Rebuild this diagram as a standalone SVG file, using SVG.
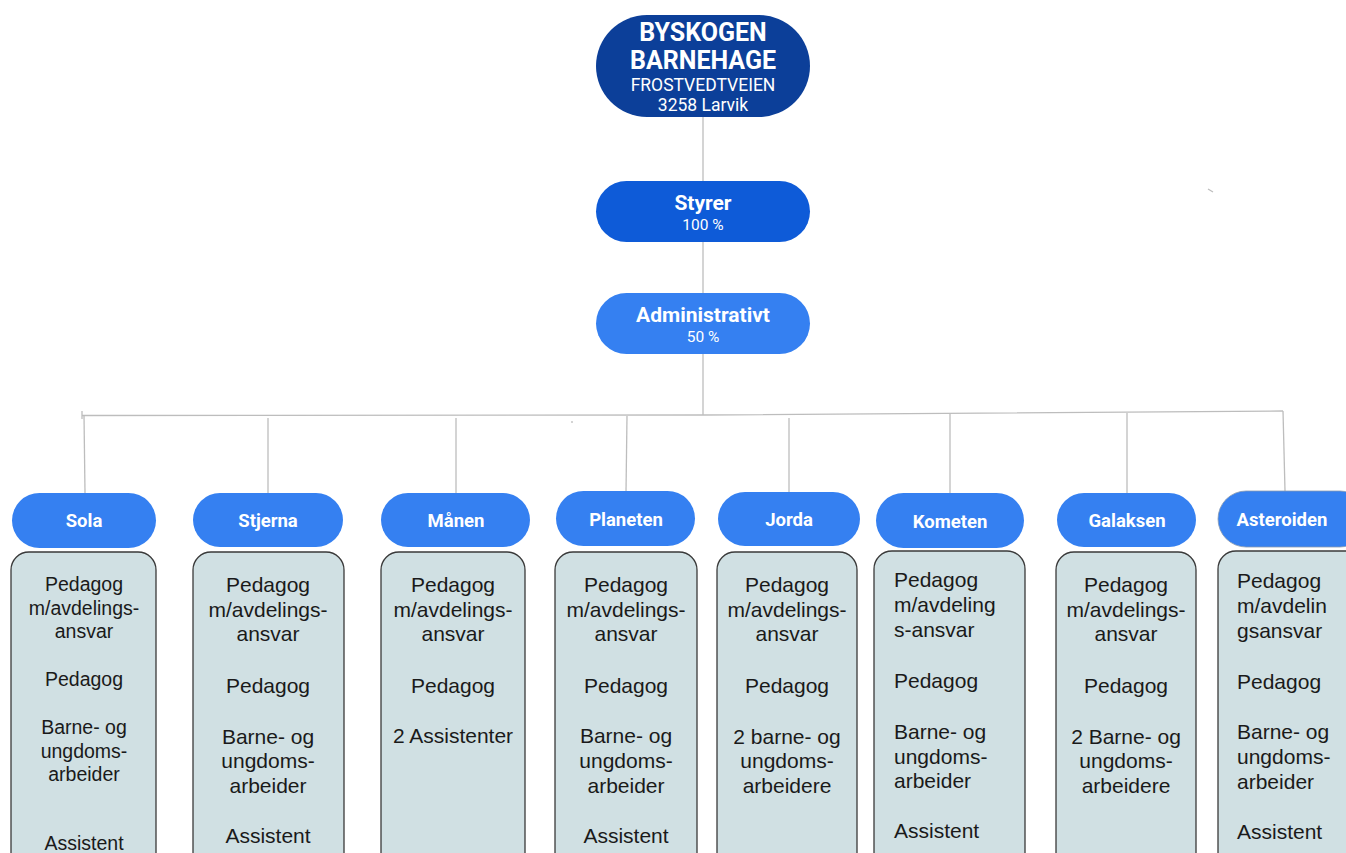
<svg xmlns="http://www.w3.org/2000/svg" width="1346" height="853" viewBox="0 0 1346 853">
<style>
.top{fill:#0c3f99}
.sty{fill:#0e5bd8}
.adm{fill:#3580f1}
.hdr{fill:#3580f1}
.box{fill:#d0e0e3;stroke:#3a3a3a;stroke-width:1.3}
.t{font-family:Roboto,"Liberation Sans",sans-serif;fill:#fff;text-anchor:middle}
.b{font-weight:bold}
.h{font-size:18.5px;font-weight:bold}
.g{font-family:"Liberation Sans",Arial,sans-serif;font-size:21px;fill:#1a1a1a;text-anchor:middle}
.s{font-size:19.5px}
.gl{text-anchor:start}
.c{stroke:#bdbdbd;stroke-width:1.3;fill:none}
</style>
<rect width="1346" height="853" fill="#fff"/>
<g id="connectors">
<line class="c" x1="703" y1="117" x2="703" y2="415"/>
<polyline class="c" points="82,415.5 703,415 1283,411"/>
<line class="c" x1="82" y1="411" x2="82" y2="419"/>
<line class="c" x1="84" y1="415" x2="85" y2="493"/>
<line class="c" x1="268" y1="418" x2="268" y2="493"/>
<line class="c" x1="456" y1="418" x2="456" y2="493"/>
<line class="c" x1="627" y1="416" x2="626" y2="492"/>
<line class="c" x1="789" y1="418" x2="789" y2="492"/>
<line class="c" x1="950" y1="414" x2="950" y2="493"/>
<line class="c" x1="1127" y1="413" x2="1127" y2="493"/>
<line class="c" x1="1283" y1="411" x2="1285" y2="491"/>
<line class="c" x1="572" y1="421" x2="572" y2="423"/>
<line class="c" x1="1208" y1="189" x2="1213" y2="192"/>
</g>
<g id="byskogen">
<rect class="top" x="596" y="15" width="214" height="102" rx="51"/>
<text class="t b" x="703" y="41" font-size="25">BYSKOGEN</text>
<text class="t b" x="703" y="69" font-size="25">BARNEHAGE</text>
<text class="t" x="703" y="91" font-size="17.5">FROSTVEDTVEIEN</text>
<text class="t" x="703" y="111" font-size="17.5">3258 Larvik</text>
</g>
<g id="styrer">
<rect class="sty" x="596" y="181" width="214" height="61" rx="30.5"/>
<text class="t b" x="703" y="210" font-size="21">Styrer</text>
<text class="t" x="703" y="230" font-size="15.5">100 %</text>
</g>
<g id="administrativt">
<rect class="adm" x="596" y="293" width="214" height="61" rx="30.5"/>
<text class="t b" x="703" y="322" font-size="21">Administrativt</text>
<text class="t" x="703" y="342" font-size="15.5">50 %</text>
</g>
<g id="sola">
<rect class="hdr" x="12" y="493" width="144" height="55" rx="27.5"/>
<text class="t h" x="84" y="527">Sola</text>
<rect class="box" x="11" y="552" width="145" height="360" rx="18"/>
<text class="g s" x="84" y="591">Pedagog</text>
<text class="g s" x="84" y="615">m/avdelings-</text>
<text class="g s" x="84" y="638">ansvar</text>
<text class="g s" x="84" y="686">Pedagog</text>
<text class="g s" x="84" y="734">Barne- og</text>
<text class="g s" x="84" y="758">ungdoms-</text>
<text class="g s" x="84" y="781">arbeider</text>
<text class="g s" x="84" y="850">Assistent</text>
</g>
<g id="stjerna">
<rect class="hdr" x="193" y="493" width="150" height="54" rx="27"/>
<text class="t h" x="268" y="527">Stjerna</text>
<rect class="box" x="193" y="552" width="151" height="360" rx="18"/>
<text class="g" x="268" y="592">Pedagog</text>
<text class="g" x="268" y="617">m/avdelings-</text>
<text class="g" x="268" y="641">ansvar</text>
<text class="g" x="268" y="693">Pedagog</text>
<text class="g" x="268" y="744">Barne- og</text>
<text class="g" x="268" y="768">ungdoms-</text>
<text class="g" x="268" y="793">arbeider</text>
<text class="g" x="268" y="843">Assistent</text>
</g>
<g id="manen">
<rect class="hdr" x="381" y="493" width="149" height="54" rx="27"/>
<text class="t h" x="456" y="527">Månen</text>
<rect class="box" x="381" y="552" width="144" height="360" rx="18"/>
<text class="g" x="453" y="592">Pedagog</text>
<text class="g" x="453" y="617">m/avdelings-</text>
<text class="g" x="453" y="641">ansvar</text>
<text class="g" x="453" y="693">Pedagog</text>
<text class="g" x="453" y="743">2 Assistenter</text>
</g>
<g id="planeten">
<rect class="hdr" x="556" y="491" width="139" height="55" rx="27.5"/>
<text class="t h" x="626" y="526">Planeten</text>
<rect class="box" x="555" y="552" width="142" height="360" rx="18"/>
<text class="g" x="626" y="592">Pedagog</text>
<text class="g" x="626" y="617">m/avdelings-</text>
<text class="g" x="626" y="641">ansvar</text>
<text class="g" x="626" y="693">Pedagog</text>
<text class="g" x="626" y="743">Barne- og</text>
<text class="g" x="626" y="768">ungdoms-</text>
<text class="g" x="626" y="793">arbeider</text>
<text class="g" x="626" y="843">Assistent</text>
</g>
<g id="jorda">
<rect class="hdr" x="718" y="492" width="142" height="54" rx="27"/>
<text class="t h" x="789" y="526">Jorda</text>
<rect class="box" x="717" y="552" width="140" height="360" rx="18"/>
<text class="g" x="787" y="592">Pedagog</text>
<text class="g" x="787" y="617">m/avdelings-</text>
<text class="g" x="787" y="641">ansvar</text>
<text class="g" x="787" y="693">Pedagog</text>
<text class="g" x="787" y="744">2 barne- og</text>
<text class="g" x="787" y="768">ungdoms-</text>
<text class="g" x="787" y="793">arbeidere</text>
</g>
<g id="kometen">
<rect class="hdr" x="876" y="493" width="148" height="55" rx="27.5"/>
<text class="t h" x="950" y="528">Kometen</text>
<rect class="box" x="874" y="551" width="151" height="360" rx="18"/>
<text class="g gl" x="894" y="587">Pedagog</text>
<text class="g gl" x="894" y="612">m/avdeling</text>
<text class="g gl" x="894" y="637">s-ansvar</text>
<text class="g gl" x="894" y="688">Pedagog</text>
<text class="g gl" x="894" y="739">Barne- og</text>
<text class="g gl" x="894" y="764">ungdoms-</text>
<text class="g gl" x="894" y="788">arbeider</text>
<text class="g gl" x="894" y="838">Assistent</text>
</g>
<g id="galaksen">
<rect class="hdr" x="1057" y="493" width="139" height="54" rx="27"/>
<text class="t h" x="1127" y="527">Galaksen</text>
<rect class="box" x="1056" y="552" width="140" height="360" rx="18"/>
<text class="g" x="1126" y="592">Pedagog</text>
<text class="g" x="1126" y="617">m/avdelings-</text>
<text class="g" x="1126" y="641">ansvar</text>
<text class="g" x="1126" y="693">Pedagog</text>
<text class="g" x="1126" y="744">2 Barne- og</text>
<text class="g" x="1126" y="768">ungdoms-</text>
<text class="g" x="1126" y="793">arbeidere</text>
</g>
<g id="asteroiden">
<rect class="hdr" x="1218" y="491" width="150" height="56" rx="28" stroke="#8a9bb0" stroke-width="0.8"/>
<text class="t h" x="1282" y="526">Asteroiden</text>
<rect class="box" x="1218" y="551" width="150" height="360" rx="18"/>
<text class="g gl" x="1237" y="588">Pedagog</text>
<text class="g gl" x="1237" y="613">m/avdelin</text>
<text class="g gl" x="1237" y="638">gsansvar</text>
<text class="g gl" x="1237" y="689">Pedagog</text>
<text class="g gl" x="1237" y="739">Barne- og</text>
<text class="g gl" x="1237" y="764">ungdoms-</text>
<text class="g gl" x="1237" y="789">arbeider</text>
<text class="g gl" x="1237" y="839">Assistent</text>
</g>
</svg>
